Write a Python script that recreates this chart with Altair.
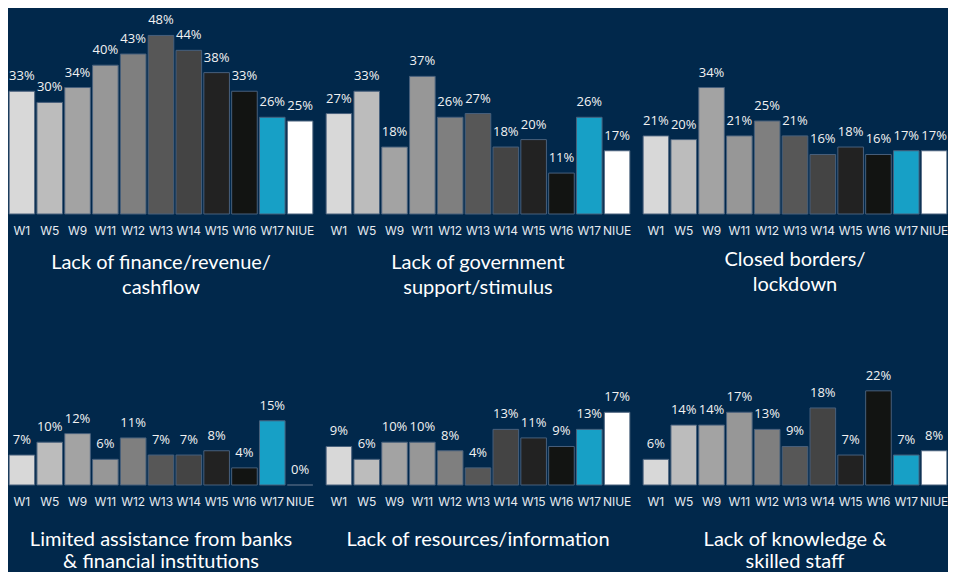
import altair as alt
import pandas as pd

waves = ["W1", "W5", "W9", "W11", "W12", "W13", "W14", "W15", "W16", "W17", "NIUE"]
bar_colors = ["#d8d8d8", "#bcbcbc", "#a3a3a3", "#979797", "#7f7f7f", "#575757",
              "#444444", "#222222", "#121412", "#17a0c6", "#ffffff"]

finance = [33, 30, 34, 40, 43, 48, 44, 38, 33, 26, 25]
government = [27, 33, 18, 37, 26, 27, 18, 20, 11, 26, 17]
borders = [21, 20, 34, 21, 25, 21, 16, 18, 16, 17, 17]
banks = [7, 10, 12, 6, 11, 7, 7, 8, 4, 15, 0]
resources = [9, 6, 10, 10, 8, 4, 13, 11, 9, 13, 17]
knowledge = [6, 14, 14, 17, 13, 9, 18, 7, 22, 7, 8]

title_finance = ["Lack of finance/revenue/", "cashflow"]
title_government = ["Lack of government", "support/stimulus"]
title_borders = ["Closed borders/", "lockdown"]
title_banks = ["Limited assistance from banks", "& financial institutions"]
title_resources = ["Lack of resources/information"]
title_knowledge = ["Lack of knowledge &", "skilled staff"]

BG = "#01284b"


def panel(values, title, ymax, height, offset, line_height):
    df = pd.DataFrame({"wave": waves, "pct": values,
                       "label": [f"{v}%" for v in values]})
    x = alt.X("wave:N", sort=waves,
              scale=alt.Scale(paddingInner=0.08, paddingOuter=0.04),
              axis=alt.Axis(title=None, labelAngle=0, domain=False, ticks=False,
                            labelPadding=11, labelFont="Inter", labelFontSize=12,
                            labelColor="#e6ebf1"))
    y = alt.Y("pct:Q", scale=alt.Scale(domain=[0, ymax]), axis=None)
    color = alt.Color("wave:N", scale=alt.Scale(domain=waves, range=bar_colors),
                      legend=None)
    bars = alt.Chart(df).mark_bar(stroke="#48607c", strokeWidth=1).encode(
        x=x, y=y, color=color)
    text = alt.Chart(df).mark_text(dy=-11, baseline="alphabetic", font="Open Sans",
                                   fontSize=13, color="#f2f2f2").encode(
        x=x, y=y, text="label:N")
    return alt.layer(bars, text).properties(
        width=306, height=height,
        title=alt.TitleParams(text=title, orient="bottom", anchor="middle",
                              font="Lato", fontSize=20, fontWeight="normal",
                              color="#ffffff", offset=offset,
                              lineHeight=line_height, baseline="top"))


top = alt.hconcat(
    panel(finance, title_finance, 50, 186, 17, 25),
    panel(government, title_government, 50, 186, 17, 25),
    panel(borders, title_borders, 50, 186, 14, 25),
    spacing=11, bounds="flush")
bottom = alt.hconcat(
    panel(banks, title_banks, 25, 107, 23, 22),
    panel(resources, title_resources, 25, 107, 23, 22),
    panel(knowledge, title_knowledge, 25, 107, 23, 22),
    spacing=11, bounds="flush")

chart = alt.vconcat(top, bottom, spacing=350, bounds="flush").properties(
    background=BG,
    padding={"left": 0, "top": 6, "right": 0, "bottom": 0},
).configure_view(stroke=None)

chart.save("out.html", embed_options={"renderer": "svg", "actions": False})
